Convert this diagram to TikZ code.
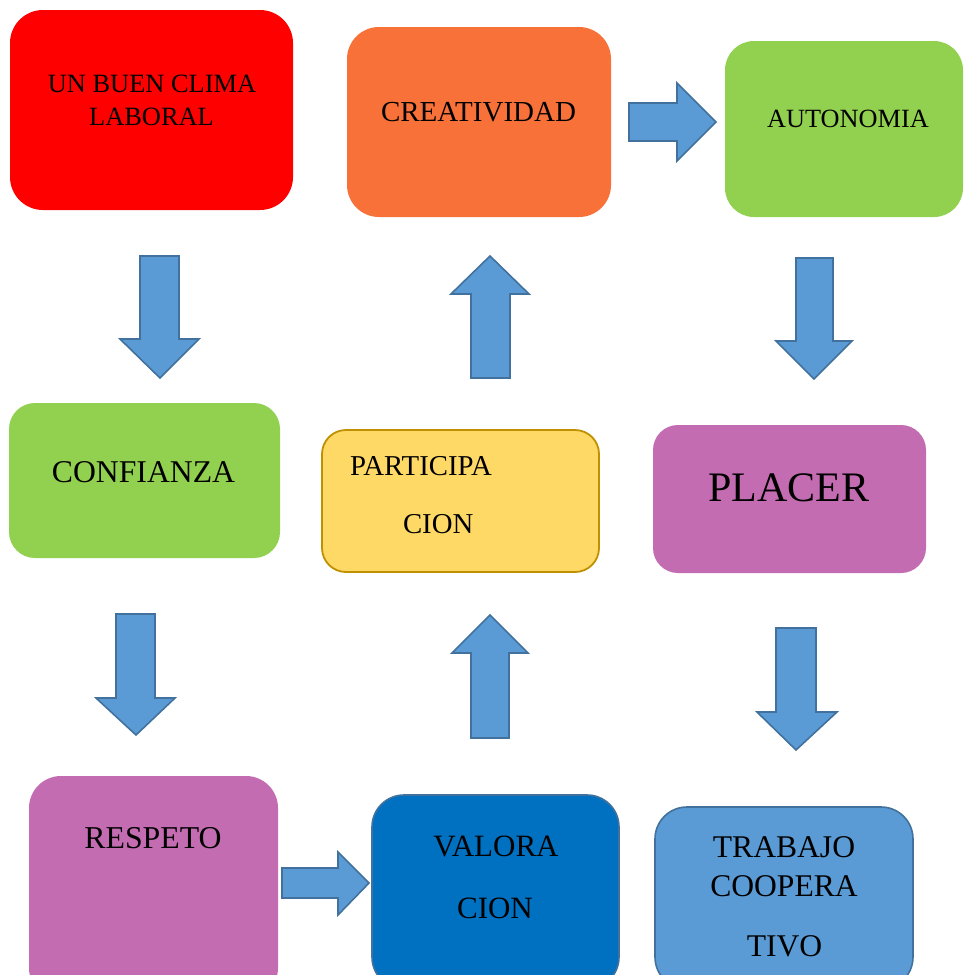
\documentclass[tikz,border=0pt]{standalone}
\usepackage{fontspec}
\setmainfont{Liberation Serif}
\definecolor{cred}{HTML}{FF0000}
\definecolor{corange}{HTML}{F87139}
\definecolor{cgreen}{HTML}{92D050}
\definecolor{cpurple}{HTML}{C36CB2}
\definecolor{cyellow}{HTML}{FFD966}
\definecolor{cgold}{HTML}{BF9000}
\definecolor{cdblue}{HTML}{0070C0}
\definecolor{clblue}{HTML}{5B9BD5}
\definecolor{cedge}{HTML}{41719C}
\tikzset{
  rbox/.style={rectangle, inner sep=0pt, outer sep=0pt, rounded corners=#1},
  txt/.style={inner sep=0pt, outer sep=0pt, anchor=base, text=black},
  blockarrow/.style={fill=clblue, draw=cedge, line width=1.6pt, line join=miter},
}
\newcommand{\fsz}[1]{\fontsize{#1}{#1}\selectfont}
\begin{document}
\begin{tikzpicture}[x=1pt, y=-1pt]
\clip (0,0) rectangle (964,975);
\fill[white] (0,0) rectangle (964,975);

% boxes
\node[rbox=33, fill=cred, minimum width=283, minimum height=200] (clima) at (151.5,110) {};
\node[rbox=32, fill=corange, minimum width=264, minimum height=190] (creat) at (479,122) {};
\node[rbox=29, fill=cgreen, minimum width=238, minimum height=176] (auton) at (844,129) {};
\node[rbox=26, fill=cgreen, minimum width=271, minimum height=155] (confi) at (144.5,480.5) {};
\node[rbox=24, fill=cyellow, draw=cgold, line width=1.8pt, minimum width=277, minimum height=142] (parti) at (460.5,501) {};
\node[rbox=25, fill=cpurple, minimum width=273, minimum height=148] (placer) at (789.5,499) {};
\node[rbox=32, fill=cpurple, minimum width=249, minimum height=224] (respeto) at (153.5,888) {};
\node[rbox=32, fill=cdblue, draw=cedge, line width=1.6pt, minimum width=247, minimum height=194] (valor) at (495.5,892) {};
\node[rbox=32, fill=clblue, draw=cedge, line width=1.6pt, minimum width=258, minimum height=182] (trabajo) at (784,898) {};

% texts
\node[txt, font=\fsz{26.4}] (t1a) at (152,92) {UN BUEN CLIMA};
\node[txt, font=\fsz{26.4}] (t1b) at (151.5,125) {LABORAL};
\node[txt, font=\fsz{29}] (t2) at (478.5,121) {CREATIVIDAD};
\node[txt, font=\fsz{26.3}] (t3) at (848,127) {AUTONOMIA};
\node[txt, font=\fsz{31.7}] (t4) at (143.5,482) {CONFIANZA};
\node[txt, font=\fsz{28.8}, anchor=base west] (t5a) at (350,475) {PARTICIPA};
\node[txt, font=\fsz{28.8}, anchor=base west] (t5b) at (403,533) {CION};
\node[txt, font=\fsz{42}] (t6) at (789,501) {PLACER};
\node[txt, font=\fsz{31.8}] (t7) at (153,848) {RESPETO};
\node[txt, font=\fsz{31}] (t8a) at (496,856) {VALORA};
\node[txt, font=\fsz{31}] (t8b) at (495,918) {CION};
\node[txt, font=\fsz{31.6}] (t9a) at (784,857) {TRABAJO};
\node[txt, font=\fsz{31.6}] (t9b) at (784,896) {COOPERA};
\node[txt, font=\fsz{31.6}] (t9c) at (784.5,956) {TIVO};

% block arrows
% clima -> confianza
\draw[blockarrow] (140,256) -- (179,256) -- (179,339) -- (199,339) -- (160,378) -- (120,339) -- (140,339) -- cycle;
% participacion -> creatividad
\draw[blockarrow] (490,256) -- (529,294) -- (510,294) -- (510,378) -- (471,378) -- (471,294) -- (451,294) -- cycle;
% creatividad -> autonomia
\draw[blockarrow] (629,103) -- (677,103) -- (677,83) -- (716,122) -- (677,161) -- (677,141) -- (629,141) -- cycle;
% autonomia -> placer
\draw[blockarrow] (796,258) -- (833,258) -- (833,341) -- (852,341) -- (814,379) -- (776,341) -- (796,341) -- cycle;
% confianza -> respeto
\draw[blockarrow] (116,614) -- (155,614) -- (155,698) -- (175,698) -- (136,735) -- (96,698) -- (116,698) -- cycle;
% valoracion -> participacion
\draw[blockarrow] (490,615) -- (528,653) -- (509,653) -- (509,738) -- (471,738) -- (471,653) -- (452,653) -- cycle;
% placer -> trabajo
\draw[blockarrow] (776,628) -- (816,628) -- (816,712) -- (837,712) -- (796,750) -- (757,712) -- (776,712) -- cycle;
% respeto -> valoracion
\draw[blockarrow] (282,868) -- (338,868) -- (338,852) -- (369,883) -- (338,915) -- (338,898) -- (282,898) -- cycle;
\end{tikzpicture}
\end{document}
